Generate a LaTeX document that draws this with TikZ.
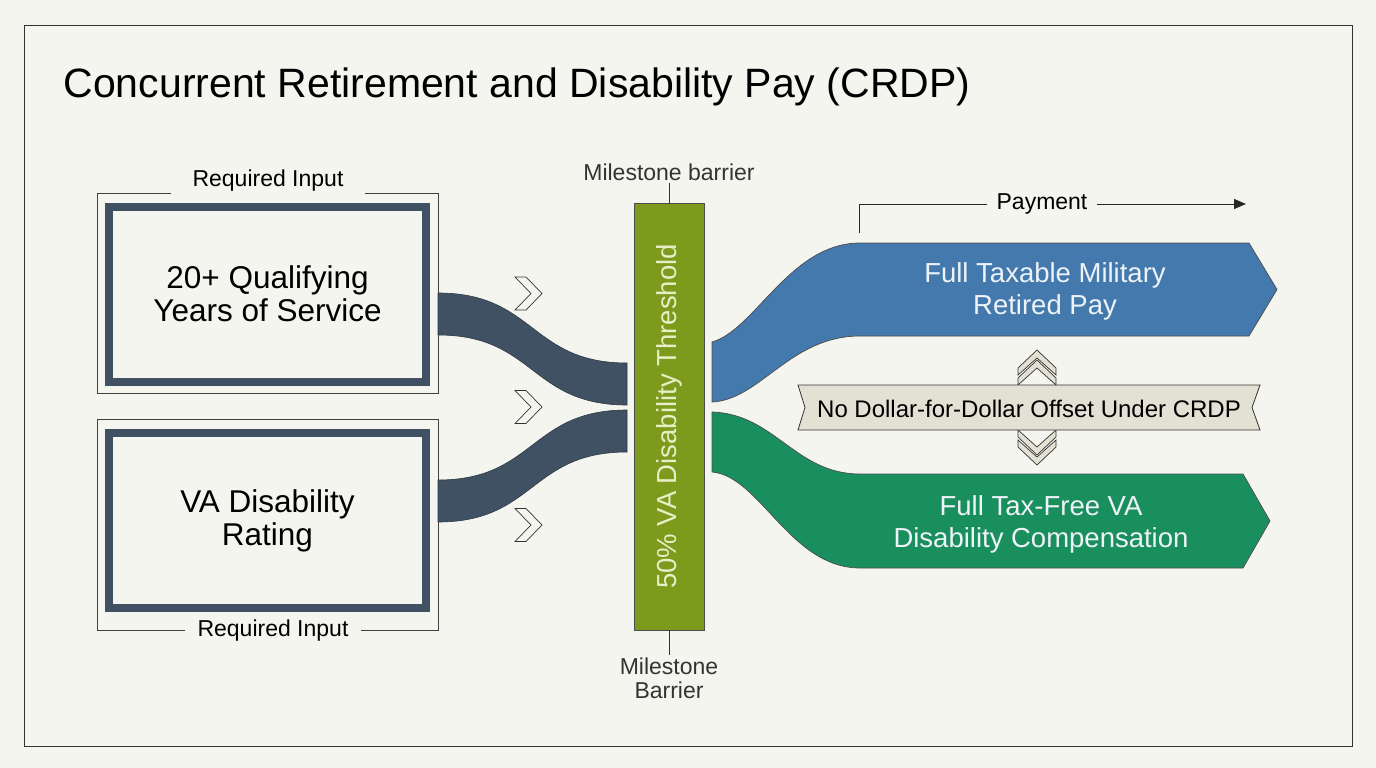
\documentclass[tikz,border=0pt]{standalone}
\usepackage{fontspec}
\setmainfont{Liberation Sans}
\usetikzlibrary{positioning,arrows.meta,calc}
\definecolor{bgcol}{HTML}{F5F5F0}
\definecolor{slate}{HTML}{3F5162}
\definecolor{olive}{HTML}{7C9B1D}
\definecolor{paybl}{HTML}{4479AD}
\definecolor{vagrn}{HTML}{1A8F5E}
\definecolor{banfill}{HTML}{E3E0D4}
\definecolor{bartxt}{HTML}{E6EFC6}
\definecolor{ribtxt}{HTML}{EDF3F7}

\begin{document}
\begin{tikzpicture}[x=1pt, y=-1pt,
    lbl/.style={font=\fontsize{23}{24}\selectfont, inner sep=2pt},
    inbox/.style={draw=slate, line width=8pt, minimum width=317pt, minimum height=175pt,
                font=\fontsize{31.5}{33}\selectfont, align=center},
    frame/.style={draw=black!75, line width=0.8pt},
    ribbon/.style={fill=slate, draw=slate!70!black, line width=0.6pt},
    chev/.style={draw=black!80, fill=bgcol, line width=0.7pt, line join=miter},
    upchev/.style={draw=black!80, fill=banfill, line width=0.7pt, line join=miter},
    flow/.style={draw=black!70, line width=0.7pt},
    flowtxt/.style={font=\fontsize{27.5}{32}\selectfont, text=ribtxt, align=center},
]
% page and outer frame
\fill[bgcol] (0,0) rectangle (1376,768);
\draw[black!80, line width=0.8pt] (24,25) rectangle (1352,746);
\node[anchor=base west, font=\fontsize{41}{48}\selectfont] (title) at (60,97)
    {Concurrent Retirement and Disability Pay (CRDP)};

% required inputs
\node[inbox] (yrs) at (267.5,294) {20+ Qualifying\\Years of Service};
\node[inbox] (rate) at (267.5,520.5) {VA Disability\\Rating};
\node[lbl, inner xsep=21pt] (req1) at (268,181) {Required Input};
\coordinate (f1nw) at (97,193);
\coordinate (f1se) at (438,393);
\draw[frame] (req1.west |- f1nw) -- (f1nw) |- (f1se) |- (req1.east |- f1nw);
\draw[frame] (97,419) rectangle (438,630);
\node[lbl, fill=bgcol, inner xsep=13pt] (req2) at (273,631) {Required Input};

% threshold bar
\node[draw=black!70, line width=0.7pt, fill=olive, minimum width=70pt, minimum height=427pt]
    (bar) at (669,416.5) {};
\node[rotate=90, text=bartxt, font=\fontsize{27.5}{30}\selectfont] at (bar.center)
    {50\% VA Disability Threshold};
\draw[black!80, line width=0.7pt] (bar.north) -- ++(0,-20)
    node[lbl, above] (mtop) {Milestone barrier};
\draw[black!80, line width=0.7pt] (bar.south) -- ++(0,25)
    node[lbl, below, align=center] (mbot) {Milestone\\Barrier};

% input ribbons
\draw[ribbon] (438,293) .. controls (535,293) and (530,363) .. (627,363)
    -- (627,405) .. controls (530,405) and (535,335) .. (438,335) -- cycle;
\draw[ribbon] (438,480) .. controls (535,480) and (530,410) .. (627,410)
    -- (627,452) .. controls (530,452) and (535,522) .. (438,522) -- cycle;
\foreach \cy in {293.5,407,525} {
    \draw[chev] (515,\cy-16.5) -- (526,\cy-16.5) -- (542,\cy) -- (526,\cy+16.5)
        -- (515,\cy+16.5) -- (531,\cy) -- cycle;
}

% payment flows
\draw[flow, fill=paybl] (712,342) .. controls (755,330) and (790,243) .. (860,243)
    -- (1249,243) -- (1277,289.5) -- (1249,336) -- (860,336)
    .. controls (790,336) and (760,400) .. (712,402) -- cycle;
\node[flowtxt] (retpay) at (1045,291) {Full Taxable Military\\Retired Pay};
\draw[flow, fill=vagrn] (712,412) .. controls (775,414) and (795,474) .. (860,474)
    -- (1243,474) -- (1270,521) -- (1243,568) -- (860,568)
    .. controls (790,568) and (760,476) .. (712,472) -- cycle;
\node[flowtxt] (vacomp) at (1041,524) {Full Tax-Free VA\\Disability Compensation};

% payment marker
\node[lbl, inner xsep=9pt] (pay) at (1042,204) {Payment};
\coordinate (paystart) at (859,233);
\coordinate (payend) at (1246,204);
\draw[black!85, line width=0.8pt] (paystart) |- (pay.west);
\draw[black!85, line width=0.8pt, -{Triangle[length=12pt, width=10pt]}] (pay.east) -- (payend);

% no offset banner
\foreach \dy in {0,10} {
    \draw[upchev] (1018,368+\dy) -- (1037,350+\dy) -- (1056,368+\dy) -- (1056,375+\dy)
        -- (1037,358+\dy) -- (1018,375+\dy) -- cycle;
    \draw[upchev] (1018,447-\dy) -- (1037,465-\dy) -- (1056,447-\dy) -- (1056,440-\dy)
        -- (1037,457-\dy) -- (1018,440-\dy) -- cycle;
}
\draw[draw=black!80, fill=banfill, line width=0.8pt] (798,385) -- (1260,385) -- (1252,407.5)
    -- (1260,430) -- (798,430) -- (805,407.5) -- cycle;
\node[font=\fontsize{24}{26}\selectfont] (offset) at (1029,409)
    {No Dollar-for-Dollar Offset Under CRDP};
\end{tikzpicture}
\end{document}
